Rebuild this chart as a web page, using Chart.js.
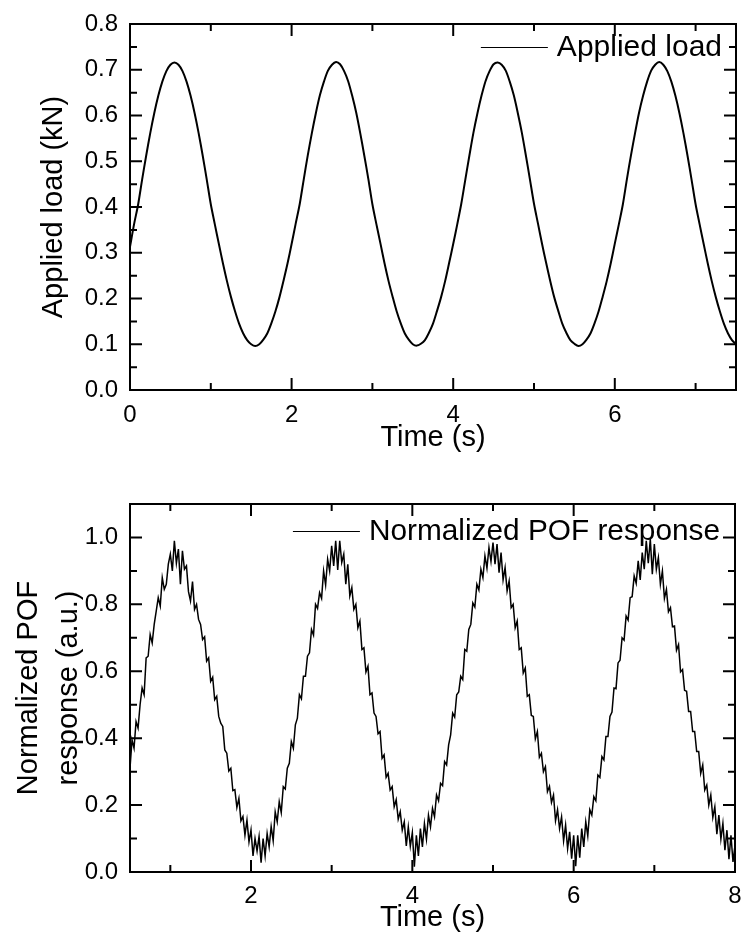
<!DOCTYPE html>
<html lang="en">
<head>
<meta charset="UTF-8" />
<title>Applied load and normalized POF response</title>
<script src="https://cdn.jsdelivr.net/npm/chart.js"></script>
<style>
  html, body { margin: 0; padding: 0; background: #fff; }
  .panel { position: absolute; left: 0; width: 741px; height: 466px; }
</style>
</head>
<body>
<div class="panel" style="top:0"><canvas id="loadChart" width="741" height="466"></canvas></div>
<div class="panel" style="top:466px"><canvas id="pofChart" width="741" height="466"></canvas></div>

<script>
// ---- values ----
// applied load (kN), sampled every 0.05 s from t = 0
const loadStart = 0;
const loadStep = 0.05;
const loadValues = [
  0.313, 0.362, 0.405, 0.460, 0.512, 0.561, 0.605, 0.643, 0.674, 0.697, 0.711,
  0.716,
  0.711, 0.697, 0.674, 0.643, 0.605, 0.561, 0.512, 0.460, 0.406, 0.362, 0.319, 0.277, 0.238, 0.203, 0.172, 0.145, 0.124, 0.109, 0.100,
  0.096,
  0.100, 0.110, 0.124, 0.146, 0.172, 0.203, 0.239, 0.277, 0.319, 0.363, 0.406, 0.460, 0.513, 0.561, 0.605, 0.644, 0.674, 0.698, 0.711,
  0.717,
  0.712, 0.697, 0.675, 0.643, 0.606, 0.561, 0.512, 0.461, 0.406, 0.362, 0.320, 0.277, 0.238, 0.204, 0.172, 0.146, 0.124, 0.110, 0.100,
  0.097,
  0.101, 0.109, 0.125, 0.145, 0.173, 0.203, 0.238, 0.278, 0.319, 0.362, 0.407, 0.460, 0.512, 0.562, 0.605, 0.643, 0.675, 0.697, 0.712,
  0.716,
  0.711, 0.698, 0.674, 0.644, 0.605, 0.562, 0.512, 0.460, 0.407, 0.363, 0.319, 0.278, 0.239, 0.203, 0.173, 0.145, 0.125, 0.109, 0.101,
  0.096,
  0.100, 0.110, 0.124, 0.146, 0.172, 0.204, 0.238, 0.277, 0.320, 0.362, 0.406, 0.461, 0.513, 0.561, 0.606, 0.643, 0.674, 0.698, 0.711,
  0.717,
  0.711, 0.697, 0.674, 0.643, 0.605, 0.561, 0.512, 0.460, 0.406, 0.362, 0.319, 0.277, 0.238, 0.203, 0.172, 0.145, 0.124, 0.109, 0.100
];

// normalized POF response (a.u.), sampled every 0.025 s from t = 0.5
const pofStart = 0.5;
const pofStep = 0.025;
const pofValues = [
  0.31, 0.395, 0.37, 0.45, 0.43, 0.50, 0.55, 0.53, 0.64, 0.645,
  0.71, 0.685, 0.74, 0.78, 0.82, 0.795, 0.88, 0.845, 0.86, 0.92,
  0.95, 0.90, 0.99, 0.923, 0.965, 0.86, 0.96, 0.905, 0.915, 0.838,
  0.81, 0.868, 0.785, 0.80, 0.755, 0.74, 0.695, 0.703, 0.63, 0.64,
  0.57, 0.582, 0.515, 0.525, 0.465, 0.445, 0.435, 0.365, 0.355, 0.302,
  0.31, 0.243, 0.246, 0.193, 0.22, 0.153, 0.166, 0.11, 0.155, 0.09,
  0.126, 0.048, 0.10, 0.063, 0.106, 0.028, 0.10, 0.048, 0.115, 0.075,
  0.136, 0.093, 0.18, 0.15, 0.21, 0.178, 0.255, 0.248, 0.31, 0.325,
  0.39, 0.37, 0.44, 0.46, 0.53, 0.518, 0.585, 0.585, 0.645, 0.655,
  0.725, 0.708, 0.80, 0.788, 0.835, 0.818, 0.90, 0.858, 0.935, 0.90,
  0.975, 0.915, 0.99, 0.903, 0.99, 0.925, 0.95, 0.86, 0.92, 0.825,
  0.85, 0.785, 0.80, 0.73, 0.75, 0.665, 0.67, 0.598, 0.615, 0.53,
  0.535, 0.475, 0.465, 0.413, 0.42, 0.34, 0.35, 0.283, 0.295, 0.245,
  0.255, 0.195, 0.216, 0.158, 0.18, 0.125, 0.15, 0.078, 0.135, 0.077,
  0.118, 0.016, 0.11, 0.048, 0.13, 0.075, 0.145, 0.098, 0.17, 0.135,
  0.19, 0.165, 0.23, 0.213, 0.265, 0.258, 0.33, 0.32, 0.38, 0.41,
  0.475, 0.463, 0.53, 0.538, 0.585, 0.575, 0.665, 0.66, 0.725, 0.74,
  0.804, 0.792, 0.86, 0.843, 0.905, 0.88, 0.945, 0.908, 0.97, 0.928,
  0.985, 0.92, 0.98, 0.895, 0.955, 0.873, 0.91, 0.84, 0.87, 0.79,
  0.80, 0.73, 0.75, 0.665, 0.67, 0.595, 0.61, 0.525, 0.53, 0.468,
  0.465, 0.398, 0.42, 0.343, 0.355, 0.30, 0.315, 0.24, 0.256, 0.208,
  0.23, 0.153, 0.186, 0.13, 0.165, 0.093, 0.14, 0.07, 0.12, 0.04,
  0.11, 0.017, 0.11, 0.043, 0.13, 0.075, 0.15, 0.108, 0.186, 0.17,
  0.225, 0.213, 0.29, 0.283, 0.345, 0.335, 0.405, 0.405, 0.465, 0.478,
  0.55, 0.548, 0.625, 0.633, 0.70, 0.693, 0.765, 0.753, 0.82, 0.823,
  0.885, 0.863, 0.93, 0.873, 0.955, 0.905, 0.99, 0.923, 0.995, 0.89,
  0.98, 0.905, 0.94, 0.86, 0.90, 0.818, 0.845, 0.778, 0.79, 0.733,
  0.735, 0.663, 0.68, 0.598, 0.605, 0.543, 0.54, 0.48, 0.48, 0.42,
  0.42, 0.36, 0.36, 0.295, 0.32, 0.245, 0.26, 0.20, 0.23, 0.163,
  0.195, 0.113, 0.17, 0.098, 0.145, 0.065, 0.125, 0.038, 0.11, 0.03,
  0.08
];

// axis ticks
const loadXTicks = [0, 2, 4, 6];
const loadXMinor = [1, 3, 5, 7];
const loadYTicks = [0, 0.1, 0.2, 0.3, 0.4, 0.5, 0.6, 0.7, 0.8];
const loadYMinor = [0.05, 0.15, 0.25, 0.35, 0.45, 0.55, 0.65, 0.75];
const pofXTicks = [2, 4, 6, 8];
const pofXMinor = [1, 3, 5, 7];
const pofYTicks = [0, 0.2, 0.4, 0.6, 0.8, 1.0];
const pofYMinor = [0.1, 0.3, 0.5, 0.7, 0.9];

const FONT = "'Liberation Sans', Arial, sans-serif";

// box round the plot, inward ticks on all four sides, and the one-line legend
const framePlugin = {
  id: 'frame',
  afterDatasetsDraw(chart, args, opts) {
    const { ctx, chartArea: a, scales: { x, y } } = chart;
    ctx.save();
    ctx.strokeStyle = '#000';
    ctx.lineWidth = 2;
    ctx.beginPath();
    const xt = (vals, len) => vals.forEach(v => {
      const px = x.getPixelForValue(v);
      ctx.moveTo(px, a.bottom); ctx.lineTo(px, a.bottom - len);
      ctx.moveTo(px, a.top); ctx.lineTo(px, a.top + len);
    });
    const yt = (vals, len) => vals.forEach(v => {
      const py = y.getPixelForValue(v);
      ctx.moveTo(a.left, py); ctx.lineTo(a.left + len, py);
      ctx.moveTo(a.right, py); ctx.lineTo(a.right - len, py);
    });
    xt(opts.xMajor, 12); xt(opts.xMinor, 7);
    yt(opts.yMajor, 12); yt(opts.yMinor, 7);
    ctx.stroke();
    ctx.strokeRect(a.left, a.top, a.right - a.left, a.bottom - a.top);

    ctx.font = opts.legendSize + 'px ' + FONT;
    ctx.fillStyle = '#000';
    ctx.textAlign = 'right';
    ctx.textBaseline = 'middle';
    const tx = a.right - opts.legendRight;
    const ty = a.top + opts.legendTop;
    ctx.fillText(opts.legend, tx, ty);
    const w = ctx.measureText(opts.legend).width;
    const ly = Math.round(ty) - 0.5;
    ctx.lineWidth = 1;
    ctx.beginPath();
    ctx.moveTo(tx - w - 9, ly);
    ctx.lineTo(tx - w - 76, ly);
    ctx.stroke();
    ctx.restore();
  }
};

function makeChart(id, values, start, step, c) {
  const points = values.map((v, i) => ({ x: +(start + i * step).toFixed(3), y: v }));
  return new Chart(document.getElementById(id), {
    type: 'line',
    data: {
      datasets: [{
        data: points,
        borderColor: '#000',
        borderWidth: c.lineWidth,
        pointRadius: 0,
        tension: c.tension,
        fill: false
      }]
    },
    options: {
      responsive: false,
      animation: false,
      events: [],
      layout: { padding: c.padding },
      plugins: {
        legend: { display: false },
        tooltip: { enabled: false },
        frame: c.frame
      },
      scales: {
        x: {
          type: 'linear',
          min: c.xMin,
          max: c.xMax,
          grid: { display: false, drawTicks: false },
          border: { display: false },
          ticks: {
            color: '#000', font: { family: FONT, size: 24 }, padding: c.xTickPad,
            maxRotation: 0, autoSkip: false, callback: v => String(v)
          },
          afterBuildTicks: s => { s.ticks = c.frame.xMajor.map(v => ({ value: v })); },
          afterFit: s => { s.height = c.xHeight; s.paddingLeft = 0; s.paddingRight = 0; },
          title: {
            display: true, text: 'Time (s)', color: '#000',
            font: { family: FONT, size: 29 }, padding: { top: 0, bottom: c.xTitlePad }
          }
        },
        y: {
          min: 0,
          max: c.yMax,
          grid: { display: false, drawTicks: false },
          border: { display: false },
          ticks: {
            color: '#000', font: { family: FONT, size: 24 }, padding: 12,
            callback: v => v.toFixed(1)
          },
          afterBuildTicks: s => { s.ticks = c.frame.yMajor.map(v => ({ value: v })); },
          afterFit: s => { s.width = 130; s.paddingTop = 0; s.paddingBottom = 0; },
          title: {
            display: true, text: c.yTitle, color: '#000',
            font: { family: FONT, size: 29, lineHeight: 40 / 29 }, padding: { top: c.yTitlePad, bottom: 0 }
          }
        }
      }
    },
    plugins: [framePlugin]
  });
}

makeChart('loadChart', loadValues, loadStart, loadStep, {
  lineWidth: 2, tension: 0.3,
  padding: { left: 0, right: 5, top: 24, bottom: 0 },
  xMin: 0, xMax: 7.5, yMax: 0.8,
  xHeight: 76, xTickPad: 11, xTitlePad: 11,
  yTitle: 'Applied load (kN)', yTitlePad: 34,
  frame: {
    xMajor: loadXTicks, xMinor: loadXMinor, yMajor: loadYTicks, yMinor: loadYMinor,
    legend: 'Applied load', legendSize: 30, legendRight: 14, legendTop: 24
  }
});

makeChart('pofChart', pofValues, pofStart, pofStep, {
  lineWidth: 1.5, tension: 0,
  padding: { left: 0, right: 6, top: 38, bottom: 0 },
  xMin: 0.5, xMax: 8, yMax: 1.1,
  xHeight: 60, xTickPad: 10, xTitlePad: -3,
  yTitle: ['Normalized POF', 'response (a.u.)'], yTitlePad: 9,
  frame: {
    xMajor: pofXTicks, xMinor: pofXMinor, yMajor: pofYTicks, yMinor: pofYMinor,
    legend: 'Normalized POF response', legendSize: 29.8, legendRight: 15, legendTop: 28
  }
});
</script>
</body>
</html>
